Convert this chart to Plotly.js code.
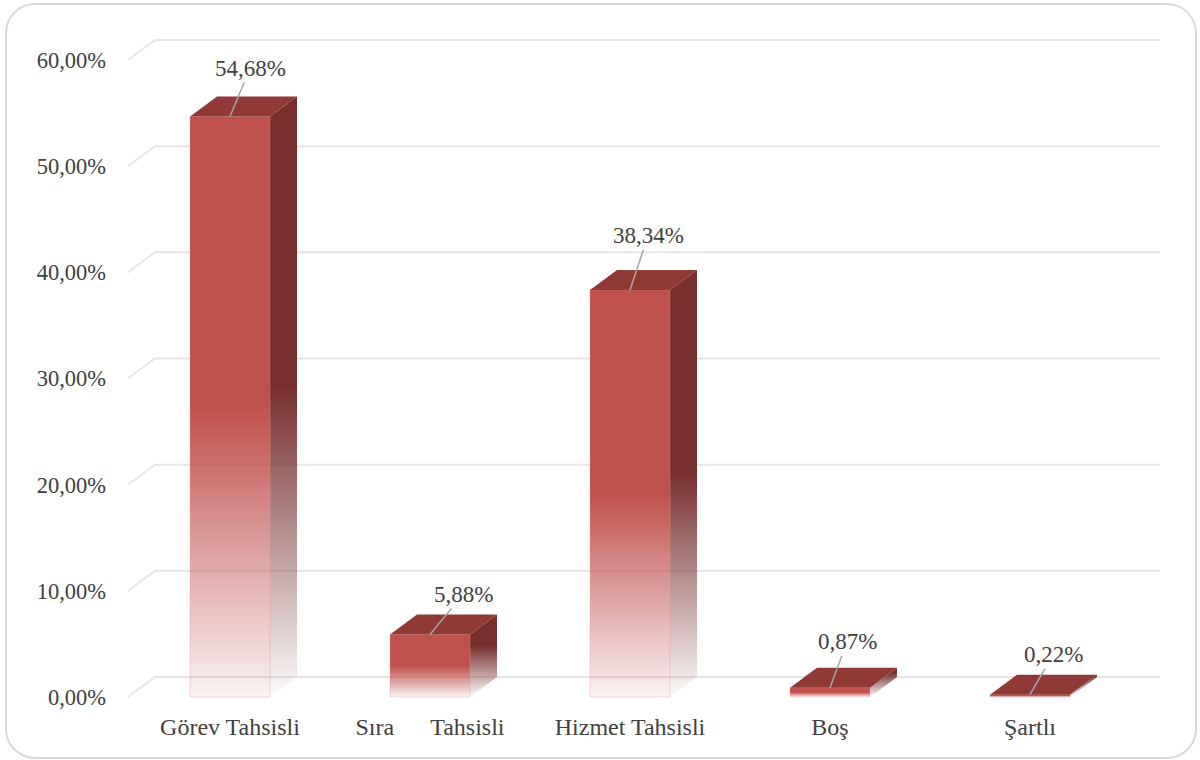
<!DOCTYPE html>
<html>
<head>
<meta charset="utf-8">
<script src="https://cdn.plot.ly/plotly-3.0.1.min.js"></script>
<style>
  html, body { margin: 0; padding: 0; background: #fff; }
  #wrap { position: relative; width: 1200px; height: 760px; overflow: hidden; }
  #chart { position: absolute; left: 0; top: 0; width: 1200px; height: 760px; }
  #frame { position: absolute; left: 5px; top: 3px; width: 1192px; height: 756px; box-sizing: border-box;
           border: 2px solid #d9d9d9; border-radius: 30px; pointer-events: none; }
</style>
</head>
<body>
<div id="wrap"><div id="chart"></div><div id="frame"></div></div>
<script>
// ---- data ----
const categories = ['Görev Tahsisli', 'Sıra\u00a0\u00a0\u00a0\u00a0\u00a0\u00a0Tahsisli', 'Hizmet Tahsisli', 'Boş', 'Şartlı'];
const values = [54.68, 5.88, 38.34, 0.87, 0.22];
const yTicks = [0, 10, 20, 30, 40, 50, 60];
const yTickLabels = ['0,00%', '10,00%', '20,00%', '30,00%', '40,00%', '50,00%', '60,00%'];

// ---- layout geometry (pixels) ----
const FONT = '"Liberation Serif", "Times New Roman", serif';
const L = 128, R = 1165, T = 30, B = 700;
const pxPerX = 200;                 // pixels per category step
const x0 = -0.51, x1 = x0 + (R - L) / pxPerX;
const pxPerY = 637 / 60;            // pixels per percent
const y0 = -(B - 697) / pxPerY, y1 = 60 + (60 - T) / pxPerY;
const dX = 27 / pxPerX, dY = 20 / pxPerY;   // 3D depth offsets
const half = 40 / pxPerX;                     // half bar width
const gridEnd = x0 + (1160 - L) / pxPerX;
const labelOffsets = [[20, -48], [33, -40], [18, -54], [17, -46], [23, -40]];

const fmt = v => v.toFixed(2).replace('.', ',') + '%';
const traces = [];

// gridlines on back wall with slanted left ends
const gx = [], gy = [];
yTicks.forEach(v => { gx.push(x0, x0 + dX, gridEnd, null); gy.push(v, v + dY, v + dY, null); });
traces.push({ type: 'scatter', mode: 'lines', x: gx, y: gy, line: { color: '#e6e6e6', width: 2 }, hoverinfo: 'skip' });

values.forEach((v, i) => {
  // side face
  traces.push({
    type: 'scatter', mode: 'lines', fill: 'toself',
    x: [i + half, i + half + dX, i + half + dX, i + half, i + half],
    y: [0, dY, v + dY, v, 0],
    line: { width: 0, color: 'rgba(0,0,0,0)' },
    fillcolor: '#772f2e',
    fillgradient: { type: 'vertical', start: 0, stop: v * 0.5 + dY,
      colorscale: [[0, 'rgba(119,47,46,0.02)'], [1, 'rgba(119,47,46,1)']] },
    hoverinfo: 'skip'
  });
  // front face
  traces.push({
    type: 'scatter', mode: 'lines', fill: 'toself',
    x: [i - half, i + half, i + half, i - half, i - half],
    y: [0, 0, v, v, 0],
    line: { width: 1, color: 'rgba(225,150,148,0.35)' },
    fillcolor: '#c0504d',
    fillgradient: { type: 'vertical', start: 0, stop: v * 0.5,
      colorscale: [[0, 'rgba(192,80,77,0.07)'], [1, 'rgba(192,80,77,1)']] },
    hoverinfo: 'skip'
  });
  // top face
  traces.push({
    type: 'scatter', mode: 'lines', fill: 'toself',
    x: [i - half, i + half, i + half + dX, i - half + dX, i - half],
    y: [v, v, v + dY, v + dY, v],
    line: { width: 0, color: 'rgba(0,0,0,0)' },
    fillcolor: '#8f3a37',
    hoverinfo: 'skip'
  });
});

const annotations = values.map((v, i) => ({
  x: i, y: v, xref: 'x', yref: 'y',
  text: fmt(v),
  showarrow: true, arrowhead: 0, arrowwidth: 1.5, arrowcolor: '#a6a6a6',
  ax: labelOffsets[i][0], ay: labelOffsets[i][1],
  font: { family: FONT, size: 23, color: '#404040' }
}));

const layout = {
  width: 1200, height: 760,
  margin: { l: L, r: 1200 - R, t: T, b: 760 - B, pad: 0 },
  paper_bgcolor: '#ffffff', plot_bgcolor: '#ffffff',
  showlegend: false, hovermode: false,
  font: { family: FONT, color: '#404040' },
  xaxis: { range: [x0, x1], tickvals: categories.map((c, i) => i), ticktext: categories,
    showgrid: false, zeroline: false, showline: false, ticks: '',
    tickfont: { family: FONT, size: 24, color: '#404040' }, ticklabelstandoff: 10 },
  yaxis: { range: [y0, y1], tickvals: yTicks, ticktext: yTickLabels,
    showgrid: false, zeroline: false, showline: false, ticks: '',
    tickfont: { family: FONT, size: 22.5, color: '#404040' }, ticklabelstandoff: 21 },
  annotations: annotations
};

Plotly.newPlot('chart', traces, layout, { staticPlot: true, displayModeBar: false });
</script>
</body>
</html>
